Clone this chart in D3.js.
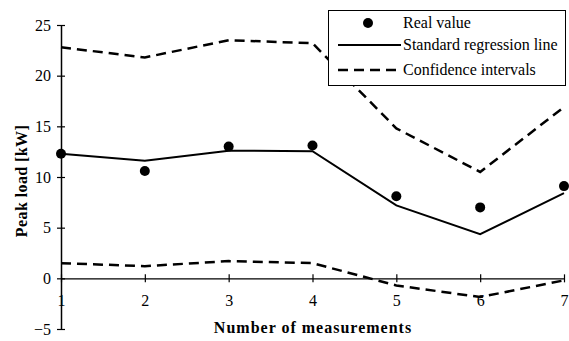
<!DOCTYPE html>
<html><head><meta charset="utf-8">
<script src="https://cdn.jsdelivr.net/npm/d3@7"></script>
<style>body{margin:0;background:#fff}svg{display:block}
svg text{font-family:"Liberation Serif","Times New Roman","DejaVu Serif",serif;fill:#000}</style>
</head><body>
<svg id="c" width="569" height="341"></svg>
<script>
const measurements = [1, 2, 3, 4, 5, 6, 7];
const realValue = [12.3, 10.6, 13.0, 13.1, 8.1, 7.0, 9.1];
const regression = [12.3, 11.6, 12.6, 12.55, 7.2, 4.35, 8.4];
const upperCI = [22.8, 21.8, 23.5, 23.2, 14.8, 10.5, 16.9];
const lowerCI = [1.5, 1.2, 1.7, 1.5, -0.7, -1.85, -0.2];
const yTicks = [-5, 0, 5, 10, 15, 20, 25];
const legendLabels = ["Real value", "Standard regression line", "Confidence intervals"];

const svg = d3.select("#c");
const x = d3.scaleLinear().domain([1, 7]).range([61, 564]);
const y = d3.scaleLinear().domain([-5, 25]).range([329, 25]);

// y axis
const yAxis = svg.append("g").attr("transform", `translate(${x(1)},0)`)
  .call(d3.axisLeft(y).tickValues(yTicks).tickSize(0).tickPadding(10));
yAxis.attr("font-family", null).attr("font-size", null);
yAxis.select(".domain").attr("stroke", "#000").attr("stroke-width", 1.5);
yAxis.selectAll("text").style("font-size", "16px");
yAxis.selectAll(".tick").append("line").attr("x1", -4).attr("x2", 4).attr("stroke", "#000").attr("stroke-width", 1.2);

// x axis at y=0
const xAxis = svg.append("g").attr("transform", `translate(0,${y(0)})`)
  .call(d3.axisBottom(x).tickValues(measurements).tickFormat(d3.format("d")).tickSize(0).tickPadding(16));
xAxis.attr("font-family", null).attr("font-size", null);
xAxis.select(".domain").attr("stroke", "#000").attr("stroke-width", 1.2);
xAxis.selectAll("text").style("font-size", "16px");
xAxis.selectAll(".tick").append("line").attr("y1", -4).attr("y2", 4).attr("stroke", "#000").attr("stroke-width", 1.2);

const line = d3.line().x((d, i) => x(measurements[i])).y(d => y(d));

svg.append("path").attr("d", line(regression)).attr("fill", "none").attr("stroke", "#000").attr("stroke-width", 2);
[upperCI, lowerCI].forEach(s => svg.append("path").attr("d", line(s)).attr("fill", "none")
  .attr("stroke", "#000").attr("stroke-width", 2.5).attr("stroke-dasharray", "10,6"));

svg.append("g").selectAll("circle").data(realValue).join("circle")
  .attr("cx", (d, i) => x(measurements[i])).attr("cy", d => y(d)).attr("r", 5).attr("fill", "#000");

// axis titles
svg.append("text").attr("x", 313).attr("y", 333).attr("text-anchor", "middle")
  .style("font-weight", "bold").style("font-size", "16px").style("letter-spacing", "1px").text("Number of measurements");
svg.append("text").attr("transform", "translate(27,181) rotate(-90)").attr("text-anchor", "middle")
  .style("font-weight", "bold").style("font-size", "16px").style("letter-spacing", "0.4px").text("Peak load [kW]");

// legend
const lg = svg.append("g");
lg.append("rect").attr("x", 328.5).attr("y", 10.5).attr("width", 237).attr("height", 75)
  .attr("fill", "#fff").attr("stroke", "#000").attr("stroke-width", 1);
const ly = [23, 45, 70];
lg.append("circle").attr("cx", 368).attr("cy", ly[0]).attr("r", 5).attr("fill", "#000");
lg.append("line").attr("x1", 338).attr("x2", 401).attr("y1", ly[1]).attr("y2", ly[1]).attr("stroke", "#000").attr("stroke-width", 2);
lg.append("line").attr("x1", 338).attr("x2", 401).attr("y1", ly[2]).attr("y2", ly[2]).attr("stroke", "#000").attr("stroke-width", 2.5).attr("stroke-dasharray", "10,6");
lg.selectAll("text.l").data(legendLabels).join("text").attr("class", "l")
  .attr("x", 403).attr("y", (d, i) => ly[i] + 5).style("font-size", "16px").text(d => d);
</script>
</body></html>
